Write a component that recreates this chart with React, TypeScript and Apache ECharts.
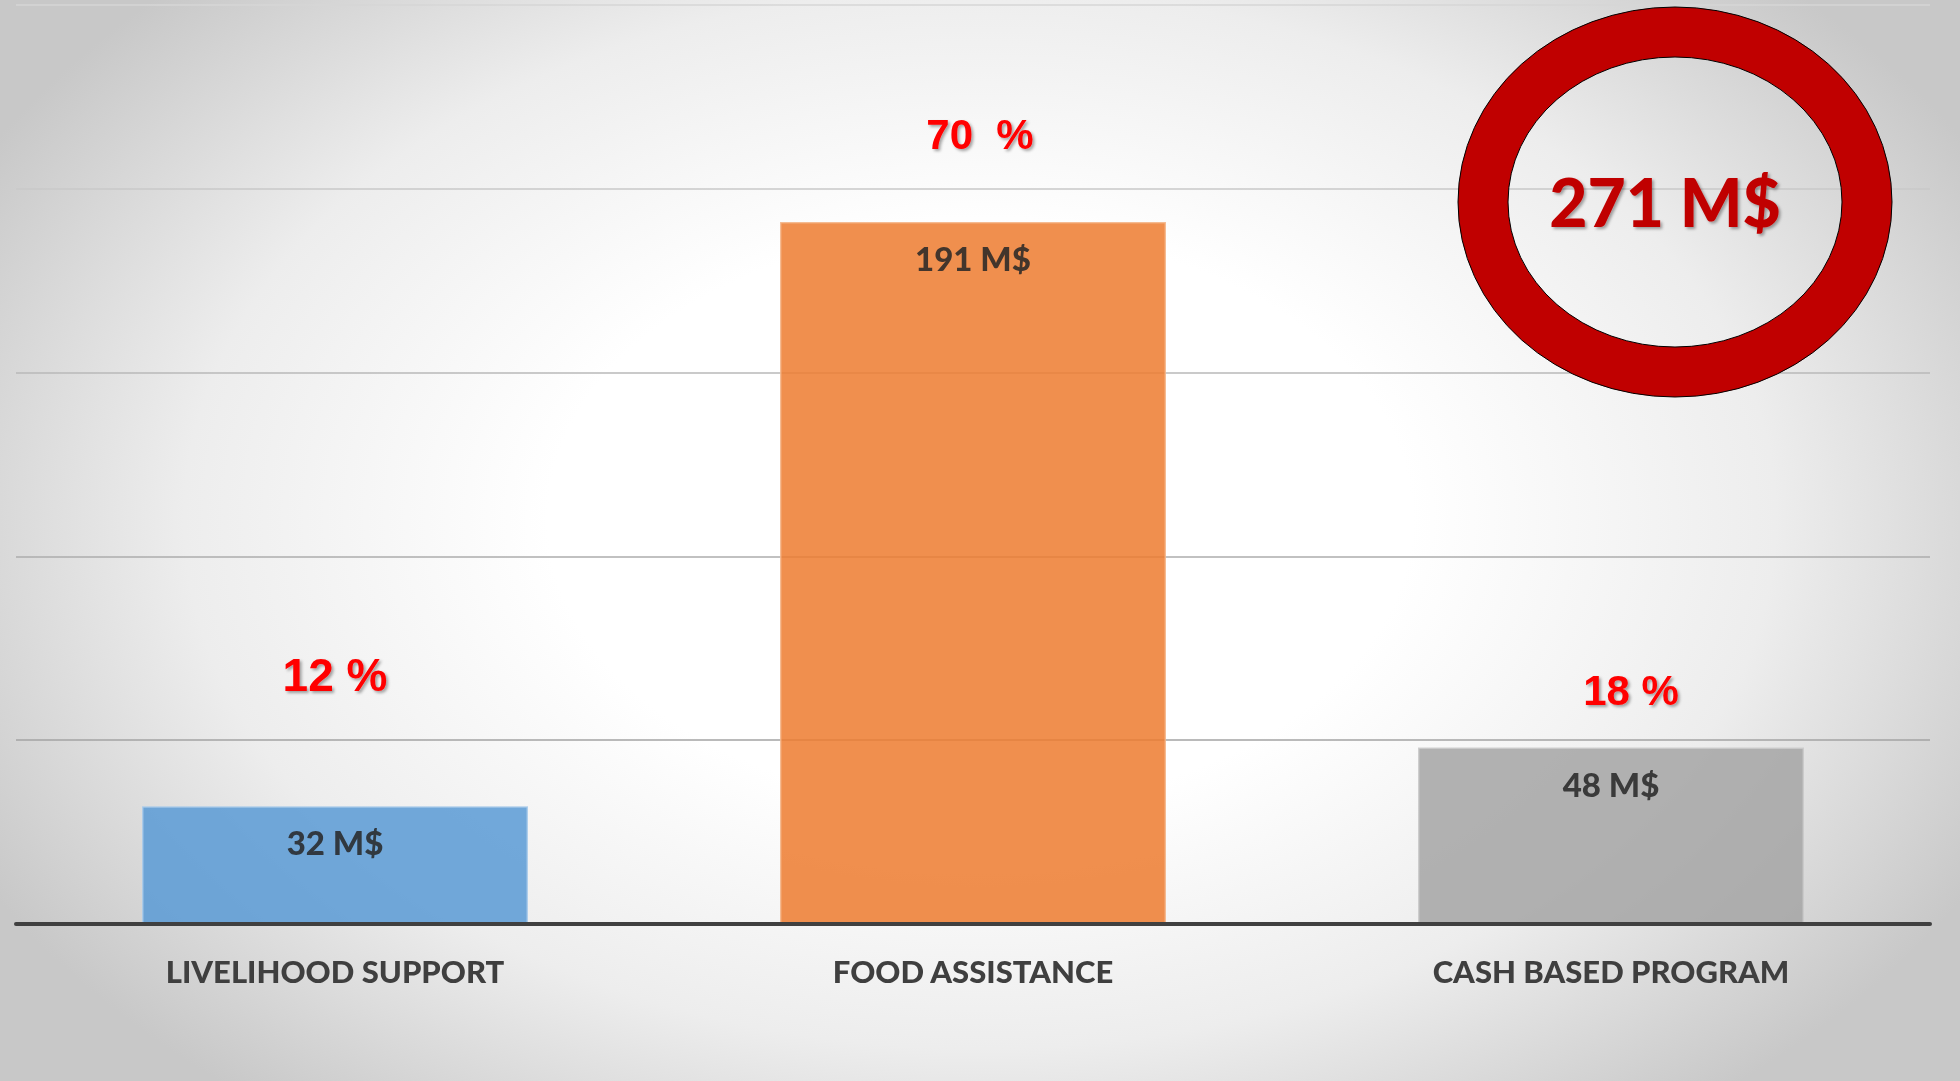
import React, { useEffect, useRef } from "react";
import * as echarts from "echarts";

const categories = ["LIVELIHOOD SUPPORT", "FOOD ASSISTANCE", "CASH BASED PROGRAM"];
const values = [32, 191, 48];
const shareLabels = ["12 %", "70  %", "18 %"];
const yMin = 0;
const yMax = 250;
const yInterval = 50;

const barColors = ["#5B9BD5", "#ED7D31", "#A5A5A5"];
const barBorders = ["#A9CBEA", "#F5B487", "#CACACA"];
const shareDistance = [108, 66, 36];
const shareFontSize = [46, 42, 42];
const shareOffsetX = [0, 7, 20];

const RING_D =
  "M -217 0 A 217 195 0 1 1 217 0 A 217 195 0 1 1 -217 0 Z " +
  "M -167 0 A 167 145 0 1 0 167 0 A 167 145 0 1 0 -167 0 Z";

let registered = false;

export default function App() {
  const ref = useRef<HTMLDivElement>(null);

  useEffect(() => {
    document.body.style.margin = "0";
    if (!registered) {
      echarts.graphic.registerShape("ellring", echarts.graphic.extendPath(RING_D, {}));
      registered = true;
    }
    const chart = echarts.init(ref.current!, null, { renderer: "svg" });
    const total = values.reduce((a, b) => a + b, 0);

    chart.setOption({
      animation: false,
      backgroundColor: "transparent",
      grid: { left: 16, right: 30, top: 5, bottom: 157, containLabel: false },
      xAxis: {
        type: "category",
        data: categories,
        axisTick: { show: false },
        axisLine: { lineStyle: { color: "#404040", width: 4 } },
        axisLabel: {
          color: "#3F3F3F",
          fontSize: 31,
          fontWeight: 900,
          fontFamily: "Lato",
          margin: 31,
          lineHeight: 32,
        },
        z: 5,
      },
      yAxis: {
        type: "value",
        min: yMin,
        max: yMax,
        interval: yInterval,
        axisLabel: { show: false },
        axisLine: { show: false },
        axisTick: { show: false },
        splitLine: {
          lineStyle: {
            color: ["#888888", "#A3A3A3", "#ADADAD", "#B9B9B9", "#C9C9C9", "#D6D6D6"],
            width: 1.5,
          },
        },
      },
      series: [
        {
          type: "bar",
          barCategoryGap: "39.5%",
          barGap: "-100%",
          data: values.map((v, i) => ({
            value: v,
            itemStyle: {
              color: barColors[i],
              opacity: 0.86,
              borderColor: barBorders[i],
              borderWidth: 1.5,
            },
          })),
          label: {
            show: true,
            position: "insideTop",
            distance: 19,
            formatter: (p: any) => `${p.value} M$`,
            color: "#262626",
            fontSize: 33,
            lineHeight: 34,
            fontWeight: 900,
            fontFamily: "Lato",
          },
        },
        {
          type: "bar",
          barCategoryGap: "39.5%",
          barGap: "-100%",
          silent: true,
          data: values.map((v, i) => ({
            value: v,
            label: {
              distance: shareDistance[i],
              fontSize: shareFontSize[i],
              lineHeight: shareFontSize[i],
              offset: [shareOffsetX[i], 0],
            },
          })),
          itemStyle: { color: "rgba(0,0,0,0)" },
          label: {
            show: true,
            position: "top",
            formatter: (p: any) => shareLabels[p.dataIndex],
            color: "#FF0000",
            fontWeight: "bold",
            fontFamily: "Liberation Sans",
            textShadowColor: "rgba(0,0,0,0.35)",
            textShadowBlur: 3,
            textShadowOffsetX: 2,
            textShadowOffsetY: 2,
          },
        },
      ],
      graphic: [
        {
          type: "ellring",
          x: 1675,
          y: 202,
          z: 100,
          style: { fill: "#C00000", stroke: "#000000", lineWidth: 1 },
        },
        {
          type: "text",
          x: 1665,
          y: 201,
          z: 101,
          style: {
            text: `${total} M$`,
            fill: "#C00000",
            fontSize: 66,
            fontWeight: 900,
            fontFamily: "Lato",
            align: "center",
            verticalAlign: "middle",
            textShadowColor: "rgba(0,0,0,0.35)",
            textShadowBlur: 3,
            textShadowOffsetX: 2,
            textShadowOffsetY: 2,
          },
        },
      ],
    });

    return () => chart.dispose();
  }, []);

  return (
    <div
      ref={ref}
      style={{
        position: "fixed",
        left: 0,
        top: 0,
        width: "1960px",
        height: "1081px",
        background:
          "radial-gradient(ellipse 58% 70% at 50% 48%, #ffffff 0%, #ffffff 38%, #ededed 70%, #c8c8c8 100%)",
      }}
    />
  );
}
